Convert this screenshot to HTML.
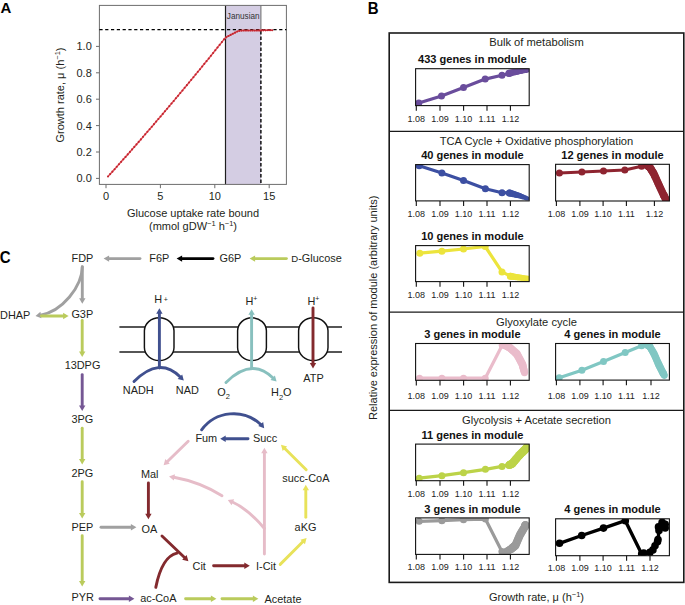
<!DOCTYPE html>
<html><head><meta charset="utf-8"><style>
html,body{margin:0;padding:0;background:#fff;}
body{width:685px;height:605px;overflow:hidden;}
svg{display:block;font-family:"Liberation Sans",sans-serif;}
</style></head><body>
<svg width="685" height="605" viewBox="0 0 685 605">
<rect width="685" height="605" fill="#fff"/>
<text x="0" y="0" font-size="15" font-weight="bold" fill="#000" transform="translate(0.4,13.2) scale(1,1.03)">A</text>
<rect x="225.6" y="5.4" width="35.400000000000006" height="179.0" fill="#d4cde3"/>
<line x1="225.5" y1="5.4" x2="225.5" y2="184.4" stroke="#1e1e1e" stroke-width="1.2" />
<line x1="260.9" y1="5.4" x2="260.9" y2="29.6" stroke="#777" stroke-width="1.1" />
<line x1="260.9" y1="31.0" x2="260.9" y2="184.4" stroke="#000" stroke-width="1.4" stroke-dasharray="3.4,2.1"/>
<rect x="99.4" y="5.4" width="186.99999999999997" height="179.0" fill="none" stroke="#6d6d6d" stroke-width="1"/>
<line x1="99.4" y1="29.6" x2="286.4" y2="29.6" stroke="#000" stroke-width="1.3" stroke-dasharray="3.2,2.6"/>
<line x1="96.0" y1="178.4" x2="99.4" y2="178.4" stroke="#6d6d6d" stroke-width="1" />
<text x="91.8" y="182.3" font-size="11" text-anchor="end" font-weight="normal" fill="#231f20" >0.0</text>
<line x1="96.0" y1="152.0" x2="99.4" y2="152.0" stroke="#6d6d6d" stroke-width="1" />
<text x="91.8" y="155.9" font-size="11" text-anchor="end" font-weight="normal" fill="#231f20" >0.2</text>
<line x1="96.0" y1="125.6" x2="99.4" y2="125.6" stroke="#6d6d6d" stroke-width="1" />
<text x="91.8" y="129.5" font-size="11" text-anchor="end" font-weight="normal" fill="#231f20" >0.4</text>
<line x1="96.0" y1="99.19999999999999" x2="99.4" y2="99.19999999999999" stroke="#6d6d6d" stroke-width="1" />
<text x="91.8" y="103.1" font-size="11" text-anchor="end" font-weight="normal" fill="#231f20" >0.6</text>
<line x1="96.0" y1="72.8" x2="99.4" y2="72.8" stroke="#6d6d6d" stroke-width="1" />
<text x="91.8" y="76.7" font-size="11" text-anchor="end" font-weight="normal" fill="#231f20" >0.8</text>
<line x1="96.0" y1="46.400000000000006" x2="99.4" y2="46.400000000000006" stroke="#6d6d6d" stroke-width="1" />
<text x="91.8" y="50.300000000000004" font-size="11" text-anchor="end" font-weight="normal" fill="#231f20" >1.0</text>
<line x1="106.0" y1="184.4" x2="106.0" y2="188.2" stroke="#6d6d6d" stroke-width="1" />
<text x="106.0" y="200.3" font-size="11" text-anchor="middle" font-weight="normal" fill="#231f20" >0</text>
<line x1="160.4" y1="184.4" x2="160.4" y2="188.2" stroke="#6d6d6d" stroke-width="1" />
<text x="160.4" y="200.3" font-size="11" text-anchor="middle" font-weight="normal" fill="#231f20" >5</text>
<line x1="214.8" y1="184.4" x2="214.8" y2="188.2" stroke="#6d6d6d" stroke-width="1" />
<text x="214.8" y="200.3" font-size="11" text-anchor="middle" font-weight="normal" fill="#231f20" >10</text>
<line x1="269.20000000000005" y1="184.4" x2="269.20000000000005" y2="188.2" stroke="#6d6d6d" stroke-width="1" />
<text x="269.20000000000005" y="200.3" font-size="11" text-anchor="middle" font-weight="normal" fill="#231f20" >15</text>
<path d="M108.00,176.52 L110.19,174.09 L112.38,171.65 L114.57,169.20 L116.76,166.75 L118.95,164.29 L121.14,161.83 L123.33,159.36 L125.52,156.88 L127.71,154.40 L129.90,151.91 L132.09,149.42 L134.28,146.92 L136.47,144.42 L138.66,141.91 L140.85,139.39 L143.04,136.87 L145.23,134.34 L147.42,131.80 L149.61,129.26 L151.80,126.72 L153.99,124.16 L156.18,121.61 L158.37,119.04 L160.56,116.47 L162.75,113.90 L164.94,111.31 L167.13,108.73 L169.32,106.13 L171.51,103.53 L173.70,100.93 L175.89,98.32 L178.08,95.70 L180.27,93.07 L182.46,90.44 L184.65,87.81 L186.84,85.17 L189.03,82.52 L191.22,79.87 L193.41,77.21 L195.60,74.54 L197.79,71.87 L199.98,69.20 L202.17,66.51 L204.36,63.83 L206.55,61.13 L208.74,58.43 L210.93,55.72 L213.12,53.01 L215.31,50.29 L217.50,47.57 L219.69,44.84 L221.88,42.10 L224.07,39.36 L226.26,37.18 L228.45,36.04 L230.64,34.91 L232.83,33.78 L235.02,32.64 L237.21,31.51 L239.40,30.83 L241.59,30.59 L243.78,30.57 L245.97,30.55 L248.16,30.52 L250.35,30.50 L252.54,30.47 L254.73,30.45 L256.92,30.43 L259.11,30.40 L261.30,30.38 L263.49,30.35 L265.68,30.33 L267.87,30.31 L270.06,30.28 L272.25,30.26" fill="none" stroke="#e4545e" stroke-width="1.5"/>
<circle cx="108.00" cy="176.52" r="1.05" fill="#c0262f"/>
<circle cx="110.19" cy="174.09" r="1.05" fill="#c0262f"/>
<circle cx="112.38" cy="171.65" r="1.05" fill="#c0262f"/>
<circle cx="114.57" cy="169.20" r="1.05" fill="#c0262f"/>
<circle cx="116.76" cy="166.75" r="1.05" fill="#c0262f"/>
<circle cx="118.95" cy="164.29" r="1.05" fill="#c0262f"/>
<circle cx="121.14" cy="161.83" r="1.05" fill="#c0262f"/>
<circle cx="123.33" cy="159.36" r="1.05" fill="#c0262f"/>
<circle cx="125.52" cy="156.88" r="1.05" fill="#c0262f"/>
<circle cx="127.71" cy="154.40" r="1.05" fill="#c0262f"/>
<circle cx="129.90" cy="151.91" r="1.05" fill="#c0262f"/>
<circle cx="132.09" cy="149.42" r="1.05" fill="#c0262f"/>
<circle cx="134.28" cy="146.92" r="1.05" fill="#c0262f"/>
<circle cx="136.47" cy="144.42" r="1.05" fill="#c0262f"/>
<circle cx="138.66" cy="141.91" r="1.05" fill="#c0262f"/>
<circle cx="140.85" cy="139.39" r="1.05" fill="#c0262f"/>
<circle cx="143.04" cy="136.87" r="1.05" fill="#c0262f"/>
<circle cx="145.23" cy="134.34" r="1.05" fill="#c0262f"/>
<circle cx="147.42" cy="131.80" r="1.05" fill="#c0262f"/>
<circle cx="149.61" cy="129.26" r="1.05" fill="#c0262f"/>
<circle cx="151.80" cy="126.72" r="1.05" fill="#c0262f"/>
<circle cx="153.99" cy="124.16" r="1.05" fill="#c0262f"/>
<circle cx="156.18" cy="121.61" r="1.05" fill="#c0262f"/>
<circle cx="158.37" cy="119.04" r="1.05" fill="#c0262f"/>
<circle cx="160.56" cy="116.47" r="1.05" fill="#c0262f"/>
<circle cx="162.75" cy="113.90" r="1.05" fill="#c0262f"/>
<circle cx="164.94" cy="111.31" r="1.05" fill="#c0262f"/>
<circle cx="167.13" cy="108.73" r="1.05" fill="#c0262f"/>
<circle cx="169.32" cy="106.13" r="1.05" fill="#c0262f"/>
<circle cx="171.51" cy="103.53" r="1.05" fill="#c0262f"/>
<circle cx="173.70" cy="100.93" r="1.05" fill="#c0262f"/>
<circle cx="175.89" cy="98.32" r="1.05" fill="#c0262f"/>
<circle cx="178.08" cy="95.70" r="1.05" fill="#c0262f"/>
<circle cx="180.27" cy="93.07" r="1.05" fill="#c0262f"/>
<circle cx="182.46" cy="90.44" r="1.05" fill="#c0262f"/>
<circle cx="184.65" cy="87.81" r="1.05" fill="#c0262f"/>
<circle cx="186.84" cy="85.17" r="1.05" fill="#c0262f"/>
<circle cx="189.03" cy="82.52" r="1.05" fill="#c0262f"/>
<circle cx="191.22" cy="79.87" r="1.05" fill="#c0262f"/>
<circle cx="193.41" cy="77.21" r="1.05" fill="#c0262f"/>
<circle cx="195.60" cy="74.54" r="1.05" fill="#c0262f"/>
<circle cx="197.79" cy="71.87" r="1.05" fill="#c0262f"/>
<circle cx="199.98" cy="69.20" r="1.05" fill="#c0262f"/>
<circle cx="202.17" cy="66.51" r="1.05" fill="#c0262f"/>
<circle cx="204.36" cy="63.83" r="1.05" fill="#c0262f"/>
<circle cx="206.55" cy="61.13" r="1.05" fill="#c0262f"/>
<circle cx="208.74" cy="58.43" r="1.05" fill="#c0262f"/>
<circle cx="210.93" cy="55.72" r="1.05" fill="#c0262f"/>
<circle cx="213.12" cy="53.01" r="1.05" fill="#c0262f"/>
<circle cx="215.31" cy="50.29" r="1.05" fill="#c0262f"/>
<circle cx="217.50" cy="47.57" r="1.05" fill="#c0262f"/>
<circle cx="219.69" cy="44.84" r="1.05" fill="#c0262f"/>
<circle cx="221.88" cy="42.10" r="1.05" fill="#c0262f"/>
<circle cx="224.07" cy="39.36" r="1.05" fill="#c0262f"/>
<circle cx="226.26" cy="37.18" r="1.05" fill="#c0262f"/>
<circle cx="228.45" cy="36.04" r="1.05" fill="#c0262f"/>
<circle cx="230.64" cy="34.91" r="1.05" fill="#c0262f"/>
<circle cx="232.83" cy="33.78" r="1.05" fill="#c0262f"/>
<circle cx="235.02" cy="32.64" r="1.05" fill="#c0262f"/>
<circle cx="237.21" cy="31.51" r="1.05" fill="#c0262f"/>
<circle cx="239.40" cy="30.83" r="1.05" fill="#c0262f"/>
<circle cx="241.59" cy="30.59" r="1.05" fill="#c0262f"/>
<circle cx="243.78" cy="30.57" r="1.05" fill="#c0262f"/>
<circle cx="245.97" cy="30.55" r="1.05" fill="#c0262f"/>
<circle cx="248.16" cy="30.52" r="1.05" fill="#c0262f"/>
<circle cx="250.35" cy="30.50" r="1.05" fill="#c0262f"/>
<circle cx="252.54" cy="30.47" r="1.05" fill="#c0262f"/>
<circle cx="254.73" cy="30.45" r="1.05" fill="#c0262f"/>
<circle cx="256.92" cy="30.43" r="1.05" fill="#c0262f"/>
<circle cx="259.11" cy="30.40" r="1.05" fill="#c0262f"/>
<circle cx="261.30" cy="30.38" r="1.05" fill="#c0262f"/>
<circle cx="263.49" cy="30.35" r="1.05" fill="#c0262f"/>
<circle cx="265.68" cy="30.33" r="1.05" fill="#c0262f"/>
<circle cx="267.87" cy="30.31" r="1.05" fill="#c0262f"/>
<circle cx="270.06" cy="30.28" r="1.05" fill="#c0262f"/>
<circle cx="272.25" cy="30.26" r="1.05" fill="#c0262f"/>
<text x="243.2" y="19.0" font-size="8.2" text-anchor="middle" font-weight="normal" fill="#333" >Janusian</text>
<text x="0" y="0" font-size="11" fill="#231f20" text-anchor="middle" transform="translate(63.8,95.0) rotate(-90)">Growth rate, &#956; (h<tspan dy="-4" font-size="7.5">&#8722;1</tspan><tspan dy="4">)</tspan></text>
<text x="193.0" y="217.2" font-size="11" text-anchor="middle" font-weight="normal" fill="#231f20" >Glucose uptake rate bound</text>
<text x="193" y="229.6" font-size="11" fill="#231f20" text-anchor="middle">(mmol gDW<tspan dy="-4" font-size="7.5">&#8722;1</tspan><tspan dy="4"> h</tspan><tspan dy="-4" font-size="7.5">&#8722;1</tspan><tspan dy="4">)</tspan></text>
<text x="0" y="0" font-size="15" font-weight="bold" fill="#000" transform="translate(367.7,13.5) scale(1,1.05)">B</text>
<rect x="389.2" y="33.0" width="294.6" height="549.4" fill="none" stroke="#1a1a1a" stroke-width="1.6"/>
<line x1="389.2" y1="131.3" x2="683.8" y2="131.3" stroke="#1a1a1a" stroke-width="1.2" />
<line x1="389.2" y1="312.1" x2="683.8" y2="312.1" stroke="#1a1a1a" stroke-width="1.2" />
<line x1="389.2" y1="410.4" x2="683.8" y2="410.4" stroke="#1a1a1a" stroke-width="1.2" />
<text x="536.5" y="45.6" font-size="11.2" text-anchor="middle" font-weight="normal" fill="#231f20" >Bulk of metabolism</text>
<text x="536.5" y="144.8" font-size="11.15" text-anchor="middle" font-weight="normal" fill="#231f20" >TCA Cycle + Oxidative phosphorylation</text>
<text x="536.5" y="325.8" font-size="11.2" text-anchor="middle" font-weight="normal" fill="#231f20" >Glyoxylate cycle</text>
<text x="536.5" y="424.2" font-size="11.2" text-anchor="middle" font-weight="normal" fill="#231f20" >Glycolysis + Acetate secretion</text>
<text font-size="11" fill="#231f20" text-anchor="middle" transform="translate(376.5,307.8) rotate(-90)">Relative expression of module (arbitrary units)</text>
<text x="536.5" y="600.6" font-size="11" fill="#231f20" text-anchor="middle">Growth rate, &#956; (h<tspan dy="-4" font-size="7.5">&#8722;1</tspan><tspan dy="4">)</tspan></text>
<text x="472.40000000000003" y="62.6" font-size="11.05" text-anchor="middle" font-weight="bold" fill="#111" >433 genes in module</text>
<clipPath id="c120"><rect x="415.6" y="68.7" width="113.60000000000002" height="36.89999999999999"/></clipPath>
<g clip-path="url(#c120)">
<path d="M418.80,103.00 L441.50,96.00 L463.50,87.60 L485.20,79.10 L502.00,75.20 L509.00,73.50" fill="none" stroke="#6a4d9c" stroke-width="3.2" stroke-linejoin="round"/>
<circle cx="418.80" cy="103.00" r="3.5" fill="#6a4d9c"/>
<circle cx="441.50" cy="96.00" r="3.5" fill="#6a4d9c"/>
<circle cx="463.50" cy="87.60" r="3.5" fill="#6a4d9c"/>
<circle cx="485.20" cy="79.10" r="3.5" fill="#6a4d9c"/>
<circle cx="502.00" cy="75.20" r="3.5" fill="#6a4d9c"/>
<circle cx="509.00" cy="73.50" r="3.5" fill="#6a4d9c"/>
<circle cx="509.00" cy="73.20" r="3.50" fill="#6a4d9c"/><circle cx="510.57" cy="72.90" r="3.42" fill="#6a4d9c"/><circle cx="512.13" cy="72.60" r="3.33" fill="#6a4d9c"/><circle cx="513.70" cy="72.30" r="3.25" fill="#6a4d9c"/><circle cx="515.27" cy="72.00" r="3.17" fill="#6a4d9c"/><circle cx="516.83" cy="71.70" r="3.08" fill="#6a4d9c"/><circle cx="518.40" cy="71.40" r="3.00" fill="#6a4d9c"/><circle cx="519.83" cy="71.20" r="2.92" fill="#6a4d9c"/><circle cx="521.27" cy="71.00" r="2.83" fill="#6a4d9c"/><circle cx="522.70" cy="70.80" r="2.75" fill="#6a4d9c"/><circle cx="524.13" cy="70.60" r="2.67" fill="#6a4d9c"/><circle cx="525.57" cy="70.40" r="2.58" fill="#6a4d9c"/><circle cx="527.00" cy="70.20" r="2.50" fill="#6a4d9c"/>
</g>
<rect x="415.6" y="68.7" width="113.60000000000002" height="36.89999999999999" fill="none" stroke="#111" stroke-width="1.1"/>
<line x1="416.3" y1="105.6" x2="416.3" y2="110.69999999999999" stroke="#111" stroke-width="1.1" />
<text x="416.3" y="122.0" font-size="9.0" text-anchor="middle" font-weight="normal" fill="#222" >1.08</text>
<line x1="440.0" y1="105.6" x2="440.0" y2="110.69999999999999" stroke="#111" stroke-width="1.1" />
<text x="440.0" y="122.0" font-size="9.0" text-anchor="middle" font-weight="normal" fill="#222" >1.09</text>
<line x1="463.6" y1="105.6" x2="463.6" y2="110.69999999999999" stroke="#111" stroke-width="1.1" />
<text x="463.6" y="122.0" font-size="9.0" text-anchor="middle" font-weight="normal" fill="#222" >1.10</text>
<line x1="487.0" y1="105.6" x2="487.0" y2="110.69999999999999" stroke="#111" stroke-width="1.1" />
<text x="487.0" y="122.0" font-size="9.0" text-anchor="middle" font-weight="normal" fill="#222" >1.11</text>
<line x1="510.4" y1="105.6" x2="510.4" y2="110.69999999999999" stroke="#111" stroke-width="1.1" />
<text x="510.4" y="122.0" font-size="9.0" text-anchor="middle" font-weight="normal" fill="#222" >1.12</text>
<text x="472.40000000000003" y="158.9" font-size="11.05" text-anchor="middle" font-weight="bold" fill="#111" >40 genes in module</text>
<clipPath id="c143"><rect x="415.6" y="164.6" width="113.60000000000002" height="36.30000000000001"/></clipPath>
<g clip-path="url(#c143)">
<path d="M419.20,165.70 L441.90,173.00 L463.50,180.50 L485.40,188.80 L502.00,192.70 L509.50,192.90" fill="none" stroke="#3c4fa2" stroke-width="3.2" stroke-linejoin="round"/>
<circle cx="419.20" cy="165.70" r="3.5" fill="#3c4fa2"/>
<circle cx="441.90" cy="173.00" r="3.5" fill="#3c4fa2"/>
<circle cx="463.50" cy="180.50" r="3.5" fill="#3c4fa2"/>
<circle cx="485.40" cy="188.80" r="3.5" fill="#3c4fa2"/>
<circle cx="502.00" cy="192.70" r="3.5" fill="#3c4fa2"/>
<circle cx="509.50" cy="192.90" r="3.5" fill="#3c4fa2"/>
<circle cx="509.50" cy="193.00" r="3.50" fill="#3c4fa2"/><circle cx="510.98" cy="193.38" r="3.40" fill="#3c4fa2"/><circle cx="512.47" cy="193.77" r="3.30" fill="#3c4fa2"/><circle cx="513.95" cy="194.15" r="3.20" fill="#3c4fa2"/><circle cx="515.43" cy="194.53" r="3.10" fill="#3c4fa2"/><circle cx="516.92" cy="194.92" r="3.00" fill="#3c4fa2"/><circle cx="518.40" cy="195.30" r="2.90" fill="#3c4fa2"/><circle cx="519.87" cy="195.82" r="2.78" fill="#3c4fa2"/><circle cx="521.33" cy="196.33" r="2.67" fill="#3c4fa2"/><circle cx="522.80" cy="196.85" r="2.55" fill="#3c4fa2"/><circle cx="524.27" cy="197.37" r="2.43" fill="#3c4fa2"/><circle cx="525.73" cy="197.88" r="2.32" fill="#3c4fa2"/><circle cx="527.20" cy="198.40" r="2.20" fill="#3c4fa2"/>
</g>
<rect x="415.6" y="164.6" width="113.60000000000002" height="36.30000000000001" fill="none" stroke="#111" stroke-width="1.1"/>
<line x1="416.3" y1="200.9" x2="416.3" y2="206.0" stroke="#111" stroke-width="1.1" />
<text x="416.3" y="217.4" font-size="9.0" text-anchor="middle" font-weight="normal" fill="#222" >1.08</text>
<line x1="440.0" y1="200.9" x2="440.0" y2="206.0" stroke="#111" stroke-width="1.1" />
<text x="440.0" y="217.4" font-size="9.0" text-anchor="middle" font-weight="normal" fill="#222" >1.09</text>
<line x1="463.6" y1="200.9" x2="463.6" y2="206.0" stroke="#111" stroke-width="1.1" />
<text x="463.6" y="217.4" font-size="9.0" text-anchor="middle" font-weight="normal" fill="#222" >1.10</text>
<line x1="487.0" y1="200.9" x2="487.0" y2="206.0" stroke="#111" stroke-width="1.1" />
<text x="487.0" y="217.4" font-size="9.0" text-anchor="middle" font-weight="normal" fill="#222" >1.11</text>
<line x1="510.4" y1="200.9" x2="510.4" y2="206.0" stroke="#111" stroke-width="1.1" />
<text x="510.4" y="217.4" font-size="9.0" text-anchor="middle" font-weight="normal" fill="#222" >1.12</text>
<text x="472.40000000000003" y="239.5" font-size="11.05" text-anchor="middle" font-weight="bold" fill="#111" >10 genes in module</text>
<clipPath id="c166"><rect x="415.6" y="245.6" width="113.60000000000002" height="36.00000000000003"/></clipPath>
<g clip-path="url(#c166)">
<path d="M419.80,253.20 L441.90,251.20 L463.50,249.00 L485.20,246.50 L502.00,271.90 L510.40,276.20" fill="none" stroke="#ece43c" stroke-width="3.2" stroke-linejoin="round"/>
<circle cx="419.80" cy="253.20" r="3.5" fill="#ece43c"/>
<circle cx="441.90" cy="251.20" r="3.5" fill="#ece43c"/>
<circle cx="463.50" cy="249.00" r="3.5" fill="#ece43c"/>
<circle cx="485.20" cy="246.50" r="3.5" fill="#ece43c"/>
<circle cx="502.00" cy="271.90" r="3.5" fill="#ece43c"/>
<circle cx="510.40" cy="276.20" r="3.5" fill="#ece43c"/>
<circle cx="510.40" cy="276.20" r="3.40" fill="#ece43c"/><circle cx="512.00" cy="276.43" r="3.33" fill="#ece43c"/><circle cx="513.60" cy="276.67" r="3.27" fill="#ece43c"/><circle cx="515.20" cy="276.90" r="3.20" fill="#ece43c"/><circle cx="516.80" cy="277.13" r="3.13" fill="#ece43c"/><circle cx="518.40" cy="277.37" r="3.07" fill="#ece43c"/><circle cx="520.00" cy="277.60" r="3.00" fill="#ece43c"/><circle cx="521.37" cy="277.77" r="2.97" fill="#ece43c"/><circle cx="522.73" cy="277.93" r="2.93" fill="#ece43c"/><circle cx="524.10" cy="278.10" r="2.90" fill="#ece43c"/><circle cx="525.47" cy="278.27" r="2.87" fill="#ece43c"/><circle cx="526.83" cy="278.43" r="2.83" fill="#ece43c"/><circle cx="528.20" cy="278.60" r="2.80" fill="#ece43c"/>
</g>
<rect x="415.6" y="245.6" width="113.60000000000002" height="36.00000000000003" fill="none" stroke="#111" stroke-width="1.1"/>
<line x1="416.3" y1="281.6" x2="416.3" y2="286.70000000000005" stroke="#111" stroke-width="1.1" />
<text x="416.3" y="298.4" font-size="9.0" text-anchor="middle" font-weight="normal" fill="#222" >1.08</text>
<line x1="440.0" y1="281.6" x2="440.0" y2="286.70000000000005" stroke="#111" stroke-width="1.1" />
<text x="440.0" y="298.4" font-size="9.0" text-anchor="middle" font-weight="normal" fill="#222" >1.09</text>
<line x1="463.6" y1="281.6" x2="463.6" y2="286.70000000000005" stroke="#111" stroke-width="1.1" />
<text x="463.6" y="298.4" font-size="9.0" text-anchor="middle" font-weight="normal" fill="#222" >1.10</text>
<line x1="487.0" y1="281.6" x2="487.0" y2="286.70000000000005" stroke="#111" stroke-width="1.1" />
<text x="487.0" y="298.4" font-size="9.0" text-anchor="middle" font-weight="normal" fill="#222" >1.11</text>
<line x1="510.4" y1="281.6" x2="510.4" y2="286.70000000000005" stroke="#111" stroke-width="1.1" />
<text x="510.4" y="298.4" font-size="9.0" text-anchor="middle" font-weight="normal" fill="#222" >1.12</text>
<text x="472.40000000000003" y="337.6" font-size="11.05" text-anchor="middle" font-weight="bold" fill="#111" >3 genes in module</text>
<clipPath id="c189"><rect x="415.6" y="343.5" width="113.60000000000002" height="36.80000000000001"/></clipPath>
<g clip-path="url(#c189)">
<path d="M419.50,378.20 L441.90,378.20 L463.50,378.20 L485.20,378.20 L502.20,345.20 L505.00,345.20" fill="none" stroke="#eabccb" stroke-width="3.2" stroke-linejoin="round"/>
<circle cx="419.50" cy="378.20" r="3.5" fill="#eabccb"/>
<circle cx="441.90" cy="378.20" r="3.5" fill="#eabccb"/>
<circle cx="463.50" cy="378.20" r="3.5" fill="#eabccb"/>
<circle cx="485.20" cy="378.20" r="3.5" fill="#eabccb"/>
<circle cx="502.20" cy="345.20" r="3.5" fill="#eabccb"/>
<circle cx="505.00" cy="345.20" r="3.5" fill="#eabccb"/>
<circle cx="505.00" cy="345.20" r="3.60" fill="#eabccb"/><circle cx="505.83" cy="345.63" r="3.65" fill="#eabccb"/><circle cx="506.67" cy="346.07" r="3.70" fill="#eabccb"/><circle cx="507.50" cy="346.50" r="3.75" fill="#eabccb"/><circle cx="508.33" cy="346.93" r="3.80" fill="#eabccb"/><circle cx="509.17" cy="347.37" r="3.85" fill="#eabccb"/><circle cx="510.00" cy="347.80" r="3.90" fill="#eabccb"/><circle cx="511.15" cy="348.82" r="3.90" fill="#eabccb"/><circle cx="512.30" cy="349.83" r="3.90" fill="#eabccb"/><circle cx="513.45" cy="350.85" r="3.90" fill="#eabccb"/><circle cx="514.60" cy="351.87" r="3.90" fill="#eabccb"/><circle cx="515.75" cy="352.88" r="3.90" fill="#eabccb"/><circle cx="516.90" cy="353.90" r="3.90" fill="#eabccb"/><circle cx="517.82" cy="355.63" r="3.90" fill="#eabccb"/><circle cx="518.73" cy="357.37" r="3.90" fill="#eabccb"/><circle cx="519.65" cy="359.10" r="3.90" fill="#eabccb"/><circle cx="520.57" cy="360.83" r="3.90" fill="#eabccb"/><circle cx="521.48" cy="362.57" r="3.90" fill="#eabccb"/><circle cx="522.40" cy="364.30" r="3.90" fill="#eabccb"/><circle cx="522.75" cy="365.68" r="3.85" fill="#eabccb"/><circle cx="523.10" cy="367.07" r="3.80" fill="#eabccb"/><circle cx="523.45" cy="368.45" r="3.75" fill="#eabccb"/><circle cx="523.80" cy="369.83" r="3.70" fill="#eabccb"/><circle cx="524.15" cy="371.22" r="3.65" fill="#eabccb"/><circle cx="524.50" cy="372.60" r="3.60" fill="#eabccb"/>
</g>
<rect x="415.6" y="343.5" width="113.60000000000002" height="36.80000000000001" fill="none" stroke="#111" stroke-width="1.1"/>
<line x1="416.3" y1="380.3" x2="416.3" y2="385.40000000000003" stroke="#111" stroke-width="1.1" />
<text x="416.3" y="398.8" font-size="9.0" text-anchor="middle" font-weight="normal" fill="#222" >1.08</text>
<line x1="440.0" y1="380.3" x2="440.0" y2="385.40000000000003" stroke="#111" stroke-width="1.1" />
<text x="440.0" y="398.8" font-size="9.0" text-anchor="middle" font-weight="normal" fill="#222" >1.09</text>
<line x1="463.6" y1="380.3" x2="463.6" y2="385.40000000000003" stroke="#111" stroke-width="1.1" />
<text x="463.6" y="398.8" font-size="9.0" text-anchor="middle" font-weight="normal" fill="#222" >1.10</text>
<line x1="487.0" y1="380.3" x2="487.0" y2="385.40000000000003" stroke="#111" stroke-width="1.1" />
<text x="487.0" y="398.8" font-size="9.0" text-anchor="middle" font-weight="normal" fill="#222" >1.11</text>
<line x1="510.4" y1="380.3" x2="510.4" y2="385.40000000000003" stroke="#111" stroke-width="1.1" />
<text x="510.4" y="398.8" font-size="9.0" text-anchor="middle" font-weight="normal" fill="#222" >1.12</text>
<text x="472.40000000000003" y="438.6" font-size="11.05" text-anchor="middle" font-weight="bold" fill="#111" >11 genes in module</text>
<clipPath id="c212"><rect x="415.6" y="444.1" width="113.60000000000002" height="36.599999999999966"/></clipPath>
<g clip-path="url(#c212)">
<path d="M419.20,478.20 L441.90,475.70 L463.50,472.70 L485.40,469.30 L502.00,466.40 L509.50,464.40" fill="none" stroke="#bcd348" stroke-width="3.2" stroke-linejoin="round"/>
<circle cx="419.20" cy="478.20" r="3.5" fill="#bcd348"/>
<circle cx="441.90" cy="475.70" r="3.5" fill="#bcd348"/>
<circle cx="463.50" cy="472.70" r="3.5" fill="#bcd348"/>
<circle cx="485.40" cy="469.30" r="3.5" fill="#bcd348"/>
<circle cx="502.00" cy="466.40" r="3.5" fill="#bcd348"/>
<circle cx="509.50" cy="464.40" r="3.5" fill="#bcd348"/>
<circle cx="509.00" cy="465.30" r="3.80" fill="#bcd348"/><circle cx="509.57" cy="464.98" r="3.83" fill="#bcd348"/><circle cx="510.13" cy="464.67" r="3.87" fill="#bcd348"/><circle cx="510.70" cy="464.35" r="3.90" fill="#bcd348"/><circle cx="511.27" cy="464.03" r="3.93" fill="#bcd348"/><circle cx="511.83" cy="463.72" r="3.97" fill="#bcd348"/><circle cx="512.40" cy="463.40" r="4.00" fill="#bcd348"/><circle cx="513.55" cy="462.05" r="4.03" fill="#bcd348"/><circle cx="514.70" cy="460.70" r="4.07" fill="#bcd348"/><circle cx="515.85" cy="459.35" r="4.10" fill="#bcd348"/><circle cx="517.00" cy="458.00" r="4.13" fill="#bcd348"/><circle cx="518.15" cy="456.65" r="4.17" fill="#bcd348"/><circle cx="519.30" cy="455.30" r="4.20" fill="#bcd348"/><circle cx="520.23" cy="454.37" r="4.17" fill="#bcd348"/><circle cx="521.17" cy="453.43" r="4.13" fill="#bcd348"/><circle cx="522.10" cy="452.50" r="4.10" fill="#bcd348"/><circle cx="523.03" cy="451.57" r="4.07" fill="#bcd348"/><circle cx="523.97" cy="450.63" r="4.03" fill="#bcd348"/><circle cx="524.90" cy="449.70" r="4.00" fill="#bcd348"/><circle cx="525.42" cy="449.12" r="3.97" fill="#bcd348"/><circle cx="525.93" cy="448.53" r="3.93" fill="#bcd348"/><circle cx="526.45" cy="447.95" r="3.90" fill="#bcd348"/><circle cx="526.97" cy="447.37" r="3.87" fill="#bcd348"/><circle cx="527.48" cy="446.78" r="3.83" fill="#bcd348"/><circle cx="528.00" cy="446.20" r="3.80" fill="#bcd348"/>
</g>
<rect x="415.6" y="444.1" width="113.60000000000002" height="36.599999999999966" fill="none" stroke="#111" stroke-width="1.1"/>
<line x1="416.3" y1="480.7" x2="416.3" y2="485.8" stroke="#111" stroke-width="1.1" />
<text x="416.3" y="497.2" font-size="9.0" text-anchor="middle" font-weight="normal" fill="#222" >1.08</text>
<line x1="440.0" y1="480.7" x2="440.0" y2="485.8" stroke="#111" stroke-width="1.1" />
<text x="440.0" y="497.2" font-size="9.0" text-anchor="middle" font-weight="normal" fill="#222" >1.09</text>
<line x1="463.6" y1="480.7" x2="463.6" y2="485.8" stroke="#111" stroke-width="1.1" />
<text x="463.6" y="497.2" font-size="9.0" text-anchor="middle" font-weight="normal" fill="#222" >1.10</text>
<line x1="487.0" y1="480.7" x2="487.0" y2="485.8" stroke="#111" stroke-width="1.1" />
<text x="487.0" y="497.2" font-size="9.0" text-anchor="middle" font-weight="normal" fill="#222" >1.11</text>
<line x1="510.4" y1="480.7" x2="510.4" y2="485.8" stroke="#111" stroke-width="1.1" />
<text x="510.4" y="497.2" font-size="9.0" text-anchor="middle" font-weight="normal" fill="#222" >1.12</text>
<text x="472.40000000000003" y="513.3" font-size="11.05" text-anchor="middle" font-weight="bold" fill="#111" >3 genes in module</text>
<clipPath id="c235"><rect x="415.6" y="517.9" width="113.60000000000002" height="36.5"/></clipPath>
<g clip-path="url(#c235)">
<path d="M419.20,521.30 L441.90,520.70 L463.50,519.70 L485.40,519.10 L501.90,551.50 L506.00,552.00" fill="none" stroke="#9b9b9b" stroke-width="3.2" stroke-linejoin="round"/>
<circle cx="419.20" cy="521.30" r="3.5" fill="#9b9b9b"/>
<circle cx="441.90" cy="520.70" r="3.5" fill="#9b9b9b"/>
<circle cx="463.50" cy="519.70" r="3.5" fill="#9b9b9b"/>
<circle cx="485.40" cy="519.10" r="3.5" fill="#9b9b9b"/>
<circle cx="501.90" cy="551.50" r="3.5" fill="#9b9b9b"/>
<circle cx="506.00" cy="552.00" r="3.5" fill="#9b9b9b"/>
<circle cx="506.00" cy="552.00" r="3.60" fill="#9b9b9b"/><circle cx="506.83" cy="551.50" r="3.65" fill="#9b9b9b"/><circle cx="507.67" cy="551.00" r="3.70" fill="#9b9b9b"/><circle cx="508.50" cy="550.50" r="3.75" fill="#9b9b9b"/><circle cx="509.33" cy="550.00" r="3.80" fill="#9b9b9b"/><circle cx="510.17" cy="549.50" r="3.85" fill="#9b9b9b"/><circle cx="511.00" cy="549.00" r="3.90" fill="#9b9b9b"/><circle cx="511.75" cy="548.38" r="3.92" fill="#9b9b9b"/><circle cx="512.50" cy="547.77" r="3.93" fill="#9b9b9b"/><circle cx="513.25" cy="547.15" r="3.95" fill="#9b9b9b"/><circle cx="514.00" cy="546.53" r="3.97" fill="#9b9b9b"/><circle cx="514.75" cy="545.92" r="3.98" fill="#9b9b9b"/><circle cx="515.50" cy="545.30" r="4.00" fill="#9b9b9b"/><circle cx="516.25" cy="543.55" r="4.00" fill="#9b9b9b"/><circle cx="517.00" cy="541.80" r="4.00" fill="#9b9b9b"/><circle cx="517.75" cy="540.05" r="4.00" fill="#9b9b9b"/><circle cx="518.50" cy="538.30" r="4.00" fill="#9b9b9b"/><circle cx="519.25" cy="536.55" r="4.00" fill="#9b9b9b"/><circle cx="520.00" cy="534.80" r="4.00" fill="#9b9b9b"/><circle cx="520.82" cy="533.42" r="3.98" fill="#9b9b9b"/><circle cx="521.63" cy="532.03" r="3.97" fill="#9b9b9b"/><circle cx="522.45" cy="530.65" r="3.95" fill="#9b9b9b"/><circle cx="523.27" cy="529.27" r="3.93" fill="#9b9b9b"/><circle cx="524.08" cy="527.88" r="3.92" fill="#9b9b9b"/><circle cx="524.90" cy="526.50" r="3.90" fill="#9b9b9b"/><circle cx="524.98" cy="526.18" r="3.85" fill="#9b9b9b"/><circle cx="525.07" cy="525.87" r="3.80" fill="#9b9b9b"/><circle cx="525.15" cy="525.55" r="3.75" fill="#9b9b9b"/><circle cx="525.23" cy="525.23" r="3.70" fill="#9b9b9b"/><circle cx="525.32" cy="524.92" r="3.65" fill="#9b9b9b"/><circle cx="525.40" cy="524.60" r="3.60" fill="#9b9b9b"/>
</g>
<rect x="415.6" y="517.9" width="113.60000000000002" height="36.5" fill="none" stroke="#111" stroke-width="1.1"/>
<line x1="416.3" y1="554.4" x2="416.3" y2="559.5" stroke="#111" stroke-width="1.1" />
<text x="416.3" y="570.4" font-size="9.0" text-anchor="middle" font-weight="normal" fill="#222" >1.08</text>
<line x1="440.0" y1="554.4" x2="440.0" y2="559.5" stroke="#111" stroke-width="1.1" />
<text x="440.0" y="570.4" font-size="9.0" text-anchor="middle" font-weight="normal" fill="#222" >1.09</text>
<line x1="463.6" y1="554.4" x2="463.6" y2="559.5" stroke="#111" stroke-width="1.1" />
<text x="463.6" y="570.4" font-size="9.0" text-anchor="middle" font-weight="normal" fill="#222" >1.10</text>
<line x1="487.0" y1="554.4" x2="487.0" y2="559.5" stroke="#111" stroke-width="1.1" />
<text x="487.0" y="570.4" font-size="9.0" text-anchor="middle" font-weight="normal" fill="#222" >1.11</text>
<line x1="510.4" y1="554.4" x2="510.4" y2="559.5" stroke="#111" stroke-width="1.1" />
<text x="510.4" y="570.4" font-size="9.0" text-anchor="middle" font-weight="normal" fill="#222" >1.12</text>
<text x="612.5" y="158.9" font-size="11.05" text-anchor="middle" font-weight="bold" fill="#111" >12 genes in module</text>
<clipPath id="c258"><rect x="555.6" y="164.3" width="113.79999999999995" height="36.69999999999999"/></clipPath>
<g clip-path="url(#c258)">
<path d="M559.40,173.00 L581.90,172.00 L603.50,171.00 L624.80,170.00 L641.60,166.30 L647.50,165.10" fill="none" stroke="#8e2430" stroke-width="3.2" stroke-linejoin="round"/>
<circle cx="559.40" cy="173.00" r="3.5" fill="#8e2430"/>
<circle cx="581.90" cy="172.00" r="3.5" fill="#8e2430"/>
<circle cx="603.50" cy="171.00" r="3.5" fill="#8e2430"/>
<circle cx="624.80" cy="170.00" r="3.5" fill="#8e2430"/>
<circle cx="641.60" cy="166.30" r="3.5" fill="#8e2430"/>
<circle cx="647.50" cy="165.10" r="3.5" fill="#8e2430"/>
<circle cx="647.00" cy="165.30" r="3.60" fill="#8e2430"/><circle cx="647.50" cy="165.67" r="3.63" fill="#8e2430"/><circle cx="648.00" cy="166.03" r="3.67" fill="#8e2430"/><circle cx="648.50" cy="166.40" r="3.70" fill="#8e2430"/><circle cx="649.00" cy="166.77" r="3.73" fill="#8e2430"/><circle cx="649.50" cy="167.13" r="3.77" fill="#8e2430"/><circle cx="650.00" cy="167.50" r="3.80" fill="#8e2430"/><circle cx="650.65" cy="168.57" r="3.80" fill="#8e2430"/><circle cx="651.30" cy="169.63" r="3.80" fill="#8e2430"/><circle cx="651.95" cy="170.70" r="3.80" fill="#8e2430"/><circle cx="652.60" cy="171.77" r="3.80" fill="#8e2430"/><circle cx="653.25" cy="172.83" r="3.80" fill="#8e2430"/><circle cx="653.90" cy="173.90" r="3.80" fill="#8e2430"/><circle cx="654.68" cy="175.63" r="3.80" fill="#8e2430"/><circle cx="655.47" cy="177.37" r="3.80" fill="#8e2430"/><circle cx="656.25" cy="179.10" r="3.80" fill="#8e2430"/><circle cx="657.03" cy="180.83" r="3.80" fill="#8e2430"/><circle cx="657.82" cy="182.57" r="3.80" fill="#8e2430"/><circle cx="658.60" cy="184.30" r="3.80" fill="#8e2430"/><circle cx="659.42" cy="186.03" r="3.80" fill="#8e2430"/><circle cx="660.23" cy="187.77" r="3.80" fill="#8e2430"/><circle cx="661.05" cy="189.50" r="3.80" fill="#8e2430"/><circle cx="661.87" cy="191.23" r="3.80" fill="#8e2430"/><circle cx="662.68" cy="192.97" r="3.80" fill="#8e2430"/><circle cx="663.50" cy="194.70" r="3.80" fill="#8e2430"/><circle cx="663.97" cy="195.63" r="3.77" fill="#8e2430"/><circle cx="664.43" cy="196.57" r="3.73" fill="#8e2430"/><circle cx="664.90" cy="197.50" r="3.70" fill="#8e2430"/><circle cx="665.37" cy="198.43" r="3.67" fill="#8e2430"/><circle cx="665.83" cy="199.37" r="3.63" fill="#8e2430"/><circle cx="666.30" cy="200.30" r="3.60" fill="#8e2430"/>
</g>
<rect x="555.6" y="164.3" width="113.79999999999995" height="36.69999999999999" fill="none" stroke="#111" stroke-width="1.1"/>
<line x1="556.4" y1="201.0" x2="556.4" y2="206.1" stroke="#111" stroke-width="1.1" />
<text x="556.4" y="217.4" font-size="9.0" text-anchor="middle" font-weight="normal" fill="#222" >1.08</text>
<line x1="579.9" y1="201.0" x2="579.9" y2="206.1" stroke="#111" stroke-width="1.1" />
<text x="579.9" y="217.4" font-size="9.0" text-anchor="middle" font-weight="normal" fill="#222" >1.09</text>
<line x1="603.1" y1="201.0" x2="603.1" y2="206.1" stroke="#111" stroke-width="1.1" />
<text x="603.1" y="217.4" font-size="9.0" text-anchor="middle" font-weight="normal" fill="#222" >1.10</text>
<line x1="626.4" y1="201.0" x2="626.4" y2="206.1" stroke="#111" stroke-width="1.1" />
<text x="626.4" y="217.4" font-size="9.0" text-anchor="middle" font-weight="normal" fill="#222" >1.11</text>
<line x1="654.4" y1="201.0" x2="654.4" y2="206.1" stroke="#111" stroke-width="1.1" />
<text x="654.4" y="217.4" font-size="9.0" text-anchor="middle" font-weight="normal" fill="#222" >1.12</text>
<text x="612.5" y="337.8" font-size="11.05" text-anchor="middle" font-weight="bold" fill="#111" >4 genes in module</text>
<clipPath id="c281"><rect x="555.6" y="343.5" width="113.79999999999995" height="36.60000000000002"/></clipPath>
<g clip-path="url(#c281)">
<path d="M559.20,377.80 L581.90,370.30 L603.50,361.50 L625.20,352.60 L641.60,345.70 L647.50,344.70" fill="none" stroke="#80c7c3" stroke-width="3.2" stroke-linejoin="round"/>
<circle cx="559.20" cy="377.80" r="3.5" fill="#80c7c3"/>
<circle cx="581.90" cy="370.30" r="3.5" fill="#80c7c3"/>
<circle cx="603.50" cy="361.50" r="3.5" fill="#80c7c3"/>
<circle cx="625.20" cy="352.60" r="3.5" fill="#80c7c3"/>
<circle cx="641.60" cy="345.70" r="3.5" fill="#80c7c3"/>
<circle cx="647.50" cy="344.70" r="3.5" fill="#80c7c3"/>
<circle cx="647.00" cy="344.90" r="3.40" fill="#80c7c3"/><circle cx="647.50" cy="345.22" r="3.42" fill="#80c7c3"/><circle cx="648.00" cy="345.53" r="3.43" fill="#80c7c3"/><circle cx="648.50" cy="345.85" r="3.45" fill="#80c7c3"/><circle cx="649.00" cy="346.17" r="3.47" fill="#80c7c3"/><circle cx="649.50" cy="346.48" r="3.48" fill="#80c7c3"/><circle cx="650.00" cy="346.80" r="3.50" fill="#80c7c3"/><circle cx="650.68" cy="347.98" r="3.52" fill="#80c7c3"/><circle cx="651.37" cy="349.17" r="3.53" fill="#80c7c3"/><circle cx="652.05" cy="350.35" r="3.55" fill="#80c7c3"/><circle cx="652.73" cy="351.53" r="3.57" fill="#80c7c3"/><circle cx="653.42" cy="352.72" r="3.58" fill="#80c7c3"/><circle cx="654.10" cy="353.90" r="3.60" fill="#80c7c3"/><circle cx="654.85" cy="355.63" r="3.62" fill="#80c7c3"/><circle cx="655.60" cy="357.37" r="3.63" fill="#80c7c3"/><circle cx="656.35" cy="359.10" r="3.65" fill="#80c7c3"/><circle cx="657.10" cy="360.83" r="3.67" fill="#80c7c3"/><circle cx="657.85" cy="362.57" r="3.68" fill="#80c7c3"/><circle cx="658.60" cy="364.30" r="3.70" fill="#80c7c3"/><circle cx="659.30" cy="365.68" r="3.68" fill="#80c7c3"/><circle cx="660.00" cy="367.07" r="3.67" fill="#80c7c3"/><circle cx="660.70" cy="368.45" r="3.65" fill="#80c7c3"/><circle cx="661.40" cy="369.83" r="3.63" fill="#80c7c3"/><circle cx="662.10" cy="371.22" r="3.62" fill="#80c7c3"/><circle cx="662.80" cy="372.60" r="3.60" fill="#80c7c3"/><circle cx="663.07" cy="373.10" r="3.55" fill="#80c7c3"/><circle cx="663.33" cy="373.60" r="3.50" fill="#80c7c3"/><circle cx="663.60" cy="374.10" r="3.45" fill="#80c7c3"/><circle cx="663.87" cy="374.60" r="3.40" fill="#80c7c3"/><circle cx="664.13" cy="375.10" r="3.35" fill="#80c7c3"/><circle cx="664.40" cy="375.60" r="3.30" fill="#80c7c3"/>
</g>
<rect x="555.6" y="343.5" width="113.79999999999995" height="36.60000000000002" fill="none" stroke="#111" stroke-width="1.1"/>
<line x1="556.4" y1="380.1" x2="556.4" y2="385.20000000000005" stroke="#111" stroke-width="1.1" />
<text x="556.4" y="398.8" font-size="9.0" text-anchor="middle" font-weight="normal" fill="#222" >1.08</text>
<line x1="579.9" y1="380.1" x2="579.9" y2="385.20000000000005" stroke="#111" stroke-width="1.1" />
<text x="579.9" y="398.8" font-size="9.0" text-anchor="middle" font-weight="normal" fill="#222" >1.09</text>
<line x1="603.1" y1="380.1" x2="603.1" y2="385.20000000000005" stroke="#111" stroke-width="1.1" />
<text x="603.1" y="398.8" font-size="9.0" text-anchor="middle" font-weight="normal" fill="#222" >1.10</text>
<line x1="626.4" y1="380.1" x2="626.4" y2="385.20000000000005" stroke="#111" stroke-width="1.1" />
<text x="626.4" y="398.8" font-size="9.0" text-anchor="middle" font-weight="normal" fill="#222" >1.11</text>
<line x1="651.0" y1="380.1" x2="651.0" y2="385.20000000000005" stroke="#111" stroke-width="1.1" />
<text x="651.0" y="398.8" font-size="9.0" text-anchor="middle" font-weight="normal" fill="#222" >1.12</text>
<text x="612.5" y="513.3" font-size="11.05" text-anchor="middle" font-weight="bold" fill="#111" >4 genes in module</text>
<clipPath id="c304"><rect x="555.6" y="518.8" width="113.79999999999995" height="36.90000000000009"/></clipPath>
<g clip-path="url(#c304)">
<path d="M559.50,543.30 L581.70,535.50 L603.50,528.10 L625.30,520.70 L641.70,553.90 L643.70,553.00 L649.90,552.40 L652.90,549.90 L655.00,545.80 L657.50,541.70 L658.00,539.60 L659.00,530.40 L658.50,526.90 L662.10,522.30 L665.20,524.30 L665.20,527.90" fill="none" stroke="#000000" stroke-width="3.4" stroke-linejoin="round"/>
<circle cx="559.50" cy="543.30" r="3.8" fill="#000000"/>
<circle cx="581.70" cy="535.50" r="3.8" fill="#000000"/>
<circle cx="603.50" cy="528.10" r="3.8" fill="#000000"/>
<circle cx="625.30" cy="520.70" r="3.8" fill="#000000"/>
<circle cx="641.70" cy="553.90" r="3.8" fill="#000000"/>
<circle cx="643.70" cy="553.00" r="3.8" fill="#000000"/>
<circle cx="649.90" cy="552.40" r="3.8" fill="#000000"/>
<circle cx="652.90" cy="549.90" r="3.8" fill="#000000"/>
<circle cx="655.00" cy="545.80" r="3.8" fill="#000000"/>
<circle cx="657.50" cy="541.70" r="3.8" fill="#000000"/>
<circle cx="658.00" cy="539.60" r="3.8" fill="#000000"/>
<circle cx="659.00" cy="530.40" r="3.8" fill="#000000"/>
<circle cx="658.50" cy="526.90" r="3.8" fill="#000000"/>
<circle cx="662.10" cy="522.30" r="3.8" fill="#000000"/>
<circle cx="665.20" cy="524.30" r="3.8" fill="#000000"/>
<circle cx="665.20" cy="527.90" r="3.8" fill="#000000"/>
</g>
<rect x="555.6" y="518.8" width="113.79999999999995" height="36.90000000000009" fill="none" stroke="#111" stroke-width="1.1"/>
<line x1="556.4" y1="555.7" x2="556.4" y2="560.8000000000001" stroke="#111" stroke-width="1.1" />
<text x="556.4" y="570.5" font-size="9.0" text-anchor="middle" font-weight="normal" fill="#222" >1.08</text>
<line x1="579.9" y1="555.7" x2="579.9" y2="560.8000000000001" stroke="#111" stroke-width="1.1" />
<text x="579.9" y="570.5" font-size="9.0" text-anchor="middle" font-weight="normal" fill="#222" >1.09</text>
<line x1="603.1" y1="555.7" x2="603.1" y2="560.8000000000001" stroke="#111" stroke-width="1.1" />
<text x="603.1" y="570.5" font-size="9.0" text-anchor="middle" font-weight="normal" fill="#222" >1.10</text>
<line x1="626.6" y1="555.7" x2="626.6" y2="560.8000000000001" stroke="#111" stroke-width="1.1" />
<text x="626.6" y="570.5" font-size="9.0" text-anchor="middle" font-weight="normal" fill="#222" >1.11</text>
<line x1="650.0" y1="555.7" x2="650.0" y2="560.8000000000001" stroke="#111" stroke-width="1.1" />
<text x="650.0" y="570.5" font-size="9.0" text-anchor="middle" font-weight="normal" fill="#222" >1.12</text>
<text x="0" y="0" font-size="15" font-weight="bold" fill="#000" transform="translate(-0.2,263.4) scale(1,1.08)">C</text>
<text x="82.5" y="262.2" font-size="10.9" text-anchor="middle" font-weight="normal" fill="#231f20" >FDP</text>
<text x="159.3" y="262.2" font-size="10.9" text-anchor="middle" font-weight="normal" fill="#231f20" >F6P</text>
<text x="230.5" y="262.2" font-size="10.9" text-anchor="middle" font-weight="normal" fill="#231f20" >G6P</text>
<text x="15.2" y="319.0" font-size="10.9" text-anchor="middle" font-weight="normal" fill="#231f20" >DHAP</text>
<text x="82.3" y="318.2" font-size="10.9" text-anchor="middle" font-weight="normal" fill="#231f20" >G3P</text>
<text x="82.5" y="369.4" font-size="10.9" text-anchor="middle" font-weight="normal" fill="#231f20" >13DPG</text>
<text x="82.3" y="423.0" font-size="10.9" text-anchor="middle" font-weight="normal" fill="#231f20" >3PG</text>
<text x="82.3" y="477.0" font-size="10.9" text-anchor="middle" font-weight="normal" fill="#231f20" >2PG</text>
<text x="82.3" y="531.0" font-size="10.9" text-anchor="middle" font-weight="normal" fill="#231f20" >PEP</text>
<text x="82.6" y="601.0" font-size="10.9" text-anchor="middle" font-weight="normal" fill="#231f20" >PYR</text>
<text x="138.3" y="394.0" font-size="10.9" text-anchor="middle" font-weight="normal" fill="#231f20" >NADH</text>
<text x="187.3" y="394.0" font-size="10.9" text-anchor="middle" font-weight="normal" fill="#231f20" >NAD</text>
<text x="313.5" y="382.4" font-size="10.9" text-anchor="middle" font-weight="normal" fill="#231f20" >ATP</text>
<text x="206.3" y="442.4" font-size="10.9" text-anchor="middle" font-weight="normal" fill="#231f20" >Fum</text>
<text x="265.0" y="442.4" font-size="10.9" text-anchor="middle" font-weight="normal" fill="#231f20" >Succ</text>
<text x="149.7" y="478.0" font-size="10.9" text-anchor="middle" font-weight="normal" fill="#231f20" >Mal</text>
<text x="305.8" y="482.0" font-size="10.9" text-anchor="middle" font-weight="normal" fill="#231f20" >succ-CoA</text>
<text x="305.5" y="531.0" font-size="10.9" text-anchor="middle" font-weight="normal" fill="#231f20" >aKG</text>
<text x="149.3" y="533.0" font-size="10.9" text-anchor="middle" font-weight="normal" fill="#231f20" >OA</text>
<text x="199.2" y="569.6" font-size="10.9" text-anchor="middle" font-weight="normal" fill="#231f20" >Cit</text>
<text x="266.0" y="569.6" font-size="10.9" text-anchor="middle" font-weight="normal" fill="#231f20" >I-Cit</text>
<text x="158.3" y="602.4" font-size="10.9" text-anchor="middle" font-weight="normal" fill="#231f20" >ac-CoA</text>
<text x="283.0" y="602.6" font-size="10.9" text-anchor="middle" font-weight="normal" fill="#231f20" >Acetate</text>
<text x="291.2" y="262.4" font-size="10.9" fill="#231f20"><tspan font-size="9.6">D</tspan>-Glucose</text>
<text x="154.2" y="303.2" font-size="10.9" fill="#231f20">H<tspan dx="1.6" dy="-1.6" font-size="7">+</tspan></text>
<text x="245.4" y="305.2" font-size="10.9" fill="#231f20">H<tspan dy="-4.4" font-size="7">+</tspan></text>
<text x="307.4" y="305.2" font-size="10.9" fill="#231f20">H<tspan dy="-4.4" font-size="7">+</tspan></text>
<text x="217.2" y="396.2" font-size="10.9" fill="#231f20">O<tspan dy="3.2" font-size="7.5">2</tspan></text>
<text x="271.0" y="396.4" font-size="10.9" fill="#231f20">H<tspan dy="3.2" font-size="7.5">2</tspan><tspan dy="-3.2">O</tspan></text>
<line x1="119.4" y1="327.0" x2="342.0" y2="327.0" stroke="#1e1e1e" stroke-width="1.5" />
<line x1="119.4" y1="351.9" x2="342.0" y2="351.9" stroke="#1e1e1e" stroke-width="1.5" />
<rect x="144.4" y="317.8" width="29.60" height="42.8" rx="14.80" ry="13" fill="#fff" stroke="#111" stroke-width="1.45"/>
<rect x="237.6" y="317.8" width="28.80" height="42.8" rx="14.40" ry="13" fill="#fff" stroke="#111" stroke-width="1.45"/>
<rect x="298.6" y="317.8" width="29.40" height="42.8" rx="14.70" ry="13" fill="#fff" stroke="#111" stroke-width="1.45"/>
<line x1="140.0" y1="258.6" x2="108.60" y2="258.60" stroke="#a0a0a0" stroke-width="2.9" stroke-linecap="round"/>
<path d="M103.60,258.60 L109.10,255.40 L109.10,261.80 Z" fill="#a0a0a0"/>
<line x1="213.0" y1="258.6" x2="181.60" y2="258.60" stroke="#000000" stroke-width="2.9" stroke-linecap="round"/>
<path d="M176.60,258.60 L182.10,255.40 L182.10,261.80 Z" fill="#000000"/>
<line x1="286.4" y1="258.6" x2="254.60" y2="258.60" stroke="#bacb5c" stroke-width="2.9" stroke-linecap="round"/>
<path d="M249.60,258.60 L255.10,255.40 L255.10,261.80 Z" fill="#bacb5c"/>
<line x1="82.3" y1="267.0" x2="82.30" y2="298.80" stroke="#a0a0a0" stroke-width="2.9" stroke-linecap="round"/>
<path d="M82.30,303.80 L79.10,298.30 L85.50,298.30 Z" fill="#a0a0a0"/>
<path d="M82.3,266.8 C82.07,286.57 62.18,311.49 40.43,315.08" fill="none" stroke="#a0a0a0" stroke-width="2.9" stroke-linecap="round"/>
<path d="M35.50,315.90 L40.40,311.85 L41.45,318.16 Z" fill="#a0a0a0"/>
<line x1="41.5" y1="316.0" x2="63.60" y2="316.00" stroke="#bacb5c" stroke-width="2.9" stroke-linecap="round"/>
<path d="M68.60,316.00 L63.10,319.20 L63.10,312.80 Z" fill="#bacb5c"/>
<line x1="82.2" y1="320.5" x2="82.20" y2="352.00" stroke="#bacb5c" stroke-width="2.9" stroke-linecap="round"/>
<path d="M82.20,357.00 L79.00,351.50 L85.40,351.50 Z" fill="#bacb5c"/>
<line x1="82.2" y1="374.6" x2="82.20" y2="406.00" stroke="#755794" stroke-width="2.9" stroke-linecap="round"/>
<path d="M82.20,411.00 L79.00,405.50 L85.40,405.50 Z" fill="#755794"/>
<line x1="82.2" y1="428.2" x2="82.20" y2="459.60" stroke="#bacb5c" stroke-width="2.9" stroke-linecap="round"/>
<path d="M82.20,464.60 L79.00,459.10 L85.40,459.10 Z" fill="#bacb5c"/>
<line x1="82.2" y1="481.8" x2="82.20" y2="513.60" stroke="#bacb5c" stroke-width="2.9" stroke-linecap="round"/>
<path d="M82.20,518.60 L79.00,513.10 L85.40,513.10 Z" fill="#bacb5c"/>
<line x1="82.2" y1="535.8" x2="82.20" y2="581.60" stroke="#bacb5c" stroke-width="2.9" stroke-linecap="round"/>
<path d="M82.20,586.60 L79.00,581.10 L85.40,581.10 Z" fill="#bacb5c"/>
<line x1="101.0" y1="527.2" x2="131.40" y2="527.20" stroke="#a0a0a0" stroke-width="2.9" stroke-linecap="round"/>
<path d="M136.40,527.20 L130.90,530.40 L130.90,524.00 Z" fill="#a0a0a0"/>
<line x1="100.0" y1="598.8" x2="129.40" y2="598.80" stroke="#755794" stroke-width="2.9" stroke-linecap="round"/>
<path d="M134.40,598.80 L128.90,602.00 L128.90,595.60 Z" fill="#755794"/>
<line x1="185.6" y1="598.8" x2="211.40" y2="598.80" stroke="#bacb5c" stroke-width="2.9" stroke-linecap="round"/>
<path d="M216.40,598.80 L210.90,602.00 L210.90,595.60 Z" fill="#bacb5c"/>
<line x1="222.0" y1="598.8" x2="253.40" y2="598.80" stroke="#bacb5c" stroke-width="2.9" stroke-linecap="round"/>
<path d="M258.40,598.80 L252.90,602.00 L252.90,595.60 Z" fill="#bacb5c"/>
<line x1="159.4" y1="368.0" x2="159.40" y2="313.20" stroke="#40508f" stroke-width="2.9" stroke-linecap="round"/>
<path d="M159.40,308.20 L162.60,313.70 L156.20,313.70 Z" fill="#40508f"/>
<path d="M134.0,381.5 Q159.4,356.0 180.28,377.05" fill="none" stroke="#40508f" stroke-width="2.9" stroke-linecap="round"/>
<path d="M183.80,380.60 L177.65,378.95 L182.20,374.44 Z" fill="#40508f"/>
<line x1="251.6" y1="368.5" x2="251.60" y2="314.20" stroke="#88c0be" stroke-width="2.9" stroke-linecap="round"/>
<path d="M251.60,309.20 L254.80,314.70 L248.40,314.70 Z" fill="#88c0be"/>
<path d="M226.0,382.5 Q251.6,357.0 273.04,378.09" fill="none" stroke="#88c0be" stroke-width="2.9" stroke-linecap="round"/>
<path d="M276.60,381.60 L270.44,380.02 L274.92,375.46 Z" fill="#88c0be"/>
<line x1="313.0" y1="308.0" x2="313.00" y2="363.40" stroke="#832a2e" stroke-width="2.9" stroke-linecap="round"/>
<path d="M313.00,368.40 L309.80,362.90 L316.20,362.90 Z" fill="#832a2e"/>
<line x1="248.0" y1="438.8" x2="225.20" y2="438.80" stroke="#40508f" stroke-width="2.9" stroke-linecap="round"/>
<path d="M220.20,438.80 L225.70,435.60 L225.70,442.00 Z" fill="#40508f"/>
<path d="M201.6,429.8 A39.7,39.7 0 0 1 260.79,424.55" fill="none" stroke="#40508f" stroke-width="2.9" stroke-linecap="round"/>
<path d="M264.20,428.20 L258.24,425.98 L263.18,421.92 Z" fill="#40508f"/>
<line x1="148.4" y1="483.0" x2="148.40" y2="514.20" stroke="#832a2e" stroke-width="2.9" stroke-linecap="round"/>
<path d="M148.40,519.20 L145.20,513.70 L151.60,513.70 Z" fill="#832a2e"/>
<line x1="162.0" y1="536.0" x2="184.78" y2="557.75" stroke="#832a2e" stroke-width="2.9" stroke-linecap="round"/>
<path d="M188.40,561.20 L182.21,559.72 L186.63,555.09 Z" fill="#832a2e"/>
<path d="M155.8,587.4 Q162.0,556.5 177.00,553.20" fill="none" stroke="#832a2e" stroke-width="2.9" stroke-linecap="round"/>
<line x1="213.6" y1="565.8" x2="244.80" y2="565.80" stroke="#832a2e" stroke-width="2.9" stroke-linecap="round"/>
<path d="M249.80,565.80 L244.30,569.00 L244.30,562.60 Z" fill="#832a2e"/>
<line x1="280.2" y1="564.4" x2="303.06" y2="541.54" stroke="#e8e25a" stroke-width="2.9" stroke-linecap="round"/>
<path d="M306.60,538.00 L304.97,544.15 L300.45,539.63 Z" fill="#e8e25a"/>
<line x1="305.8" y1="517.2" x2="305.80" y2="489.80" stroke="#e8e25a" stroke-width="2.9" stroke-linecap="round"/>
<path d="M305.80,484.80 L309.00,490.30 L302.60,490.30 Z" fill="#e8e25a"/>
<line x1="306.2" y1="469.8" x2="284.55" y2="448.32" stroke="#e8e25a" stroke-width="2.9" stroke-linecap="round"/>
<path d="M281.00,444.80 L287.16,446.40 L282.65,450.95 Z" fill="#e8e25a"/>
<line x1="264.4" y1="554.0" x2="264.40" y2="452.80" stroke="#e6bcc8" stroke-width="2.9" stroke-linecap="round"/>
<path d="M264.40,447.80 L267.60,453.30 L261.20,453.30 Z" fill="#e6bcc8"/>
<path d="M264.4,528.5 Q248.0,509.0 232.37,502.03" fill="none" stroke="#e6bcc8" stroke-width="2.9" stroke-linecap="round"/>
<path d="M227.80,500.00 L234.13,499.32 L231.52,505.16 Z" fill="#e6bcc8"/>
<path d="M222.0,495.8 Q200.0,482.0 173.92,477.29" fill="none" stroke="#e6bcc8" stroke-width="2.9" stroke-linecap="round"/>
<path d="M169.00,476.40 L174.98,474.23 L173.84,480.53 Z" fill="#e6bcc8"/>
<line x1="188.2" y1="441.2" x2="167.18" y2="461.71" stroke="#e6bcc8" stroke-width="2.9" stroke-linecap="round"/>
<path d="M163.60,465.20 L165.30,459.07 L169.77,463.65 Z" fill="#e6bcc8"/>
</svg>
</body></html>
